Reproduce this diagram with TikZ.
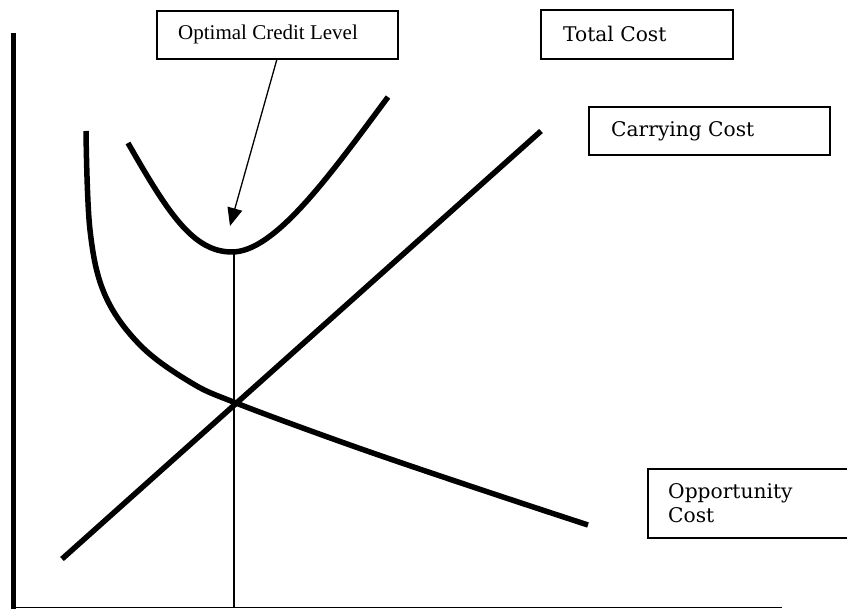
\documentclass[tikz,border=0pt]{standalone}
\usepackage{fontspec}
\setmainfont{Liberation Serif}
\newfontfamily\bookfont{DejaVu Serif}
\usetikzlibrary{arrows.meta}
\begin{document}
\begin{tikzpicture}[x=1pt,y=-1pt,
  curve/.style={line width=5.5pt},
  thinline/.style={line width=1.3pt},
  box/.style={draw, line width=1.3pt, inner sep=0pt},
  tnr/.style={font=\fontsize{21}{24}\selectfont, inner sep=0pt, anchor=base west},
  bk/.style={font=\bookfont\fontsize{20.2}{24}\selectfont, inner sep=0pt, anchor=base west, align=left}]
\useasboundingbox (0,0) rectangle (847,609);
\clip (0,0) rectangle (847,609);
% axes
\coordinate (ytop) at (13.5,33);
\coordinate (ybot) at (13.5,610);
\coordinate (origin) at (13.5,607.5);
\coordinate (xend) at (782,607.5);
\draw[line width=5pt] (ytop) -- (ybot);
\draw[thinline] (origin) -- (xend);
% optimal level vertical
\coordinate (tcmin) at (234,252);
\coordinate (vbase) at (234,607.5);
\draw[thinline] (tcmin) -- (vbase);
% carrying cost
\coordinate (cc1) at (62,559);
\coordinate (cc2) at (541,131);
\draw[curve] (cc1) -- (cc2);
% total cost
\coordinate (tc1) at (128,143);
\coordinate (tc2) at (388,97);
\draw[curve] (tc1) .. controls (168,213) and (193,252) .. (232,252)
  .. controls (275,252) and (330,175) .. (tc2);
% opportunity cost
\draw[curve] plot[smooth, tension=0.6] coordinates {(86,131) (90,230) (105,295) (140,345) (190,382) (236,403) (350,445) (470,486) (588,525)};
% boxes
\node[box, minimum width=241pt, minimum height=48pt] (ocl) at (277.5,35) {};
\node[tnr] (ocltxt) at (178,40) {Optimal Credit Level};
\node[box, minimum width=192pt, minimum height=49pt] (tcb) at (637,34.5) {};
\node[bk] (tctxt) at (563,42) {Total Cost};
\node[box, minimum width=241pt, minimum height=48pt] (ccb) at (709.5,131) {};
\node[bk] (cctxt) at (611,137) {Carrying Cost};
\node[box, minimum width=204pt, minimum height=69pt] (ocb) at (750,503.5) {};
\node[bk] (octxt) at (668,523) {Opportunity\\Cost};
% arrow
\coordinate (arrtip) at (230,226);
\draw[thinline, -{Triangle[length=18pt,width=15pt]}] (277,59) -- (arrtip);
\end{tikzpicture}
\end{document}
